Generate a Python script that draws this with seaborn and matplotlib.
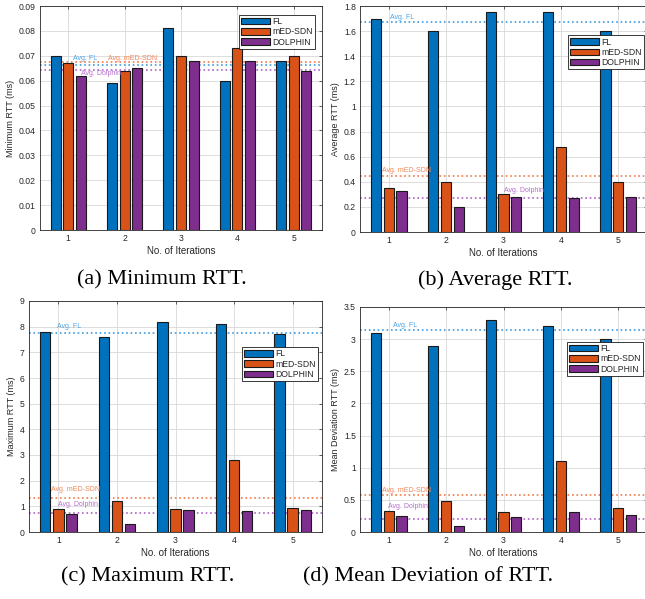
import matplotlib
matplotlib.use("Agg")
import matplotlib.pyplot as plt
import seaborn as sns
import pandas as pd

iterations = ["1", "2", "3", "4", "5"]
methods = ["FL", "mED-SDN", "DOLPHIN"]

min_fl = [0.070, 0.059, 0.081, 0.060, 0.068]
min_med = [0.067, 0.064, 0.070, 0.073, 0.070]
min_dol = [0.062, 0.065, 0.068, 0.068, 0.064]
min_avg = [0.0663, 0.0673, 0.0641]

avg_fl = [1.70, 1.60, 1.75, 1.75, 1.60]
avg_med = [0.35, 0.40, 0.30, 0.68, 0.40]
avg_dol = [0.33, 0.20, 0.28, 0.27, 0.28]
avg_avg = [1.675, 0.447, 0.271]

max_fl = [7.8, 7.6, 8.2, 8.1, 7.7]
max_med = [0.9, 1.2, 0.9, 2.8, 0.95]
max_dol = [0.7, 0.3, 0.85, 0.8, 0.85]
max_avg = [7.75, 1.33, 0.73]

dev_fl = [3.1, 2.9, 3.3, 3.2, 3.0]
dev_med = [0.33, 0.48, 0.31, 1.1, 0.38]
dev_dol = [0.25, 0.10, 0.24, 0.31, 0.27]
dev_avg = [3.14, 0.57, 0.20]

avg_labels = ["Avg. FL", "Avg. mED-SDN", "Avg. Dolphin"]
captions = ["(a) Minimum RTT.", "(b) Average RTT.", "(c) Maximum RTT.",
            "(d) Mean Deviation of RTT."]
ylabels = ["Minimum RTT (ms)", "Average RTT (ms)", "Maximum RTT (ms)",
           "Mean Deviation RTT (ms)"]

bar_colors = ["#0072BD", "#D95319", "#7E2F8E"]
line_colors = ["#3D9BE0", "#F07A4A", "#B061C6"]
text_colors = ["#4DA3E6", "#F08658", "#B56FCB"]

sns.set_theme(style="white")
plt.rcParams["font.family"] = ["Liberation Sans", "DejaVu Sans"]

W, H = 645, 599
fig = plt.figure(figsize=(W / 100, H / 100), dpi=100)

def rect(l, r, t, b):
    return [l / W, (H - b) / H, (r - l) / W, (b - t) / H]

panels = [
    dict(pos=rect(40, 322, 6, 230), data=(min_fl, min_med, min_dol), avg=min_avg,
         ylim=(0, 0.09), yticks=[i * 0.01 for i in range(10)],
         yfmt=lambda v: "0" if v == 0 else f"{v:.2f}",
         leg=(0.975, 0.96),
         lab=[(0.09, 0.0688), (0.70, 0.0688), (0.23, 0.0627)]),
    dict(pos=rect(360, 647, 6, 232), data=(avg_fl, avg_med, avg_dol), avg=avg_avg,
         ylim=(0, 1.8), yticks=[i * 0.2 for i in range(10)],
         yfmt=lambda v: "0" if v == 0 else (f"{v:.0f}" if abs(v - round(v)) < 1e-9 else f"{v:.1f}"),
         leg=(0.99, 0.87),
         lab=[(0.02, 1.71), (-0.12, 0.49), (2.0, 0.33)]),
    dict(pos=rect(29, 322, 301, 532), data=(max_fl, max_med, max_dol), avg=max_avg,
         ylim=(0, 9), yticks=list(range(10)),
         yfmt=lambda v: f"{v:.0f}",
         leg=(0.986, 0.80),
         lab=[(-0.02, 8.0), (-0.12, 1.64), (0.0, 1.09)]),
    dict(pos=rect(360, 647, 307, 532), data=(dev_fl, dev_med, dev_dol), avg=dev_avg,
         ylim=(0, 3.5), yticks=[i * 0.5 for i in range(8)],
         yfmt=lambda v: "0" if v == 0 else (f"{v:.0f}" if abs(v - round(v)) < 1e-9 else f"{v:.1f}"),
         leg=(0.986, 0.845),
         lab=[(0.07, 3.21), (-0.12, 0.64), (-0.02, 0.39)]),
]

for i, p in enumerate(panels):
    ax = fig.add_axes(p["pos"])
    rows = []
    for m, vals in zip(methods, p["data"]):
        for it, v in zip(iterations, vals):
            rows.append({"Iteration": it, "Method": m, "Value": v})
    df = pd.DataFrame(rows)
    sns.barplot(data=df, x="Iteration", y="Value", hue="Method",
                hue_order=methods, order=iterations, palette=bar_colors,
                width=0.667, gap=0.2, edgecolor="#1a1a1a", linewidth=0.8,
                saturation=1, errorbar=None, ax=ax, zorder=2)
    ax.set_xlim(-0.5, 4.5)
    ax.set_ylim(*p["ylim"])
    ax.set_yticks(p["yticks"])
    ax.set_yticklabels([p["yfmt"](v) for v in p["yticks"]])
    ax.grid(True, color="#d8d8d8", linewidth=0.6, zorder=0)
    ax.set_axisbelow(True)
    for s in ax.spines.values():
        s.set_color("#262626")
        s.set_linewidth(0.6)
    ax.tick_params(direction="in", top=True, right=True, length=2.5,
                   width=0.5, labelsize=6.2, colors="#262626", pad=3)
    ax.set_xlabel("No. of Iterations", fontsize=7, color="#262626", labelpad=2)
    ax.set_ylabel(ylabels[i], fontsize=6.5, color="#262626", labelpad=3)

    for k in range(3):
        ax.axhline(p["avg"][k], color=line_colors[k], linestyle=":",
                   linewidth=1.2, zorder=1.5)
        lx, ly = p["lab"][k]
        ax.text(lx, ly, avg_labels[k], color=text_colors[k], fontsize=5,
                ha="left", va="center", zorder=4)

    sns.move_legend(ax, "upper right", bbox_to_anchor=p["leg"], title=None,
                    fontsize=6.2, frameon=True, fancybox=False, framealpha=1,
                    edgecolor="#1a1a1a", handlelength=3.3, handleheight=0.8,
                    handletextpad=0.3, borderpad=0.25, labelspacing=0.15,
                    borderaxespad=0)
    leg = ax.get_legend()
    leg.get_frame().set_linewidth(0.6)

cap_pos = [(162, 280), (495, 280), (148, 577), (428, 577)]
for c, (cx, cy) in zip(captions, cap_pos):
    fig.text(cx / W, 1 - cy / H, c, ha="center", va="center", fontsize=16,
             family=["Liberation Serif", "DejaVu Serif"], color="black")

fig.savefig("out.png", dpi=100, facecolor="white")
